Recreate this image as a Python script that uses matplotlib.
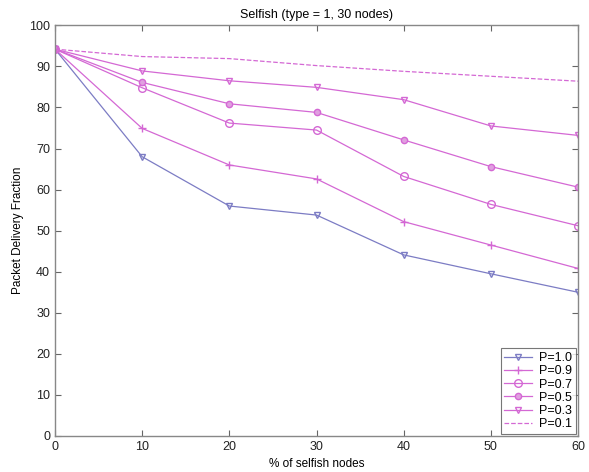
import matplotlib
matplotlib.use('Agg')
import matplotlib.pyplot as plt

plt.rcParams['font.family'] = ['Liberation Sans', 'DejaVu Sans']

x_vals = [0, 10, 20, 30, 40, 50, 60]
labels = ['P=1.0', 'P=0.9', 'P=0.7', 'P=0.5', 'P=0.3', 'P=0.1']

p10 = [94.2, 68.0, 56.0, 53.8, 44.1, 39.5, 35.0]
p09 = [94.2, 74.9, 66.0, 62.6, 52.2, 46.5, 40.8]
p07 = [94.2, 84.8, 76.2, 74.5, 63.2, 56.4, 51.2]
p05 = [94.2, 86.1, 80.9, 78.8, 72.1, 65.6, 60.6]
p03 = [94.2, 88.9, 86.5, 84.9, 81.9, 75.5, 73.2]
p01 = [94.2, 92.4, 91.9, 90.2, 88.8, 87.6, 86.4]

blue = '#7c7cc4'
pink = '#d468d4'

fig = plt.figure(figsize=(5.89, 4.72), dpi=100)
ax = fig.add_axes([0.0934, 0.0763, 0.888, 0.870])

ax.plot(x_vals, p10, '-v', color=blue, lw=0.9, ms=5, mfc='none', label=labels[0])
ax.plot(x_vals, p09, '-+', color=pink, lw=0.9, ms=6, label=labels[1])
ax.plot(x_vals, p07, '-o', color=pink, lw=0.9, ms=5.5, mfc='none', label=labels[2])
ax.plot(x_vals, p05, '-o', color=pink, lw=0.9, ms=4.5, mfc='#e0a0e0', label=labels[3])
ax.plot(x_vals, p03, '-v', color=pink, lw=0.9, ms=5, mfc='none', label=labels[4])
ax.plot(x_vals, p01, '--', color=pink, lw=0.9, label=labels[5])

ax.set_xlim(0, 60)
ax.set_ylim(0, 100)
ax.set_xticks(range(0, 61, 10))
ax.set_yticks(range(0, 101, 10))
ax.tick_params(direction='in', top=True, right=True, labelsize=9, colors='#666666',
               labelcolor='#222222', length=4, width=0.8)
for s in ax.spines.values():
    s.set_color('#888888')
    s.set_linewidth(1.0)

ax.set_title('Selfish (type = 1, 30 nodes)', fontsize=9, pad=5)
ax.set_xlabel('% of selfish nodes', fontsize=8.5)
ax.set_ylabel('Packet Delivery Fraction', fontsize=8.5)

leg = ax.legend(loc='lower right', fontsize=9, fancybox=False, borderaxespad=0.15,
                handlelength=2.2, labelspacing=0.1, borderpad=0.3, handletextpad=0.6)
leg.get_frame().set_edgecolor('#555555')
leg.get_frame().set_linewidth(0.8)

fig.savefig('out.png', dpi=100)
